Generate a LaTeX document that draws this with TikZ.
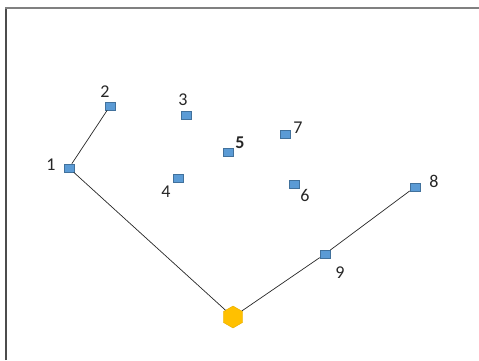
\documentclass[tikz,border=0pt]{standalone}
\usepackage{fontspec}
\setmainfont{Carlito}
\usetikzlibrary{shapes.geometric}
\definecolor{sensorblue}{RGB}{91,155,213}
\definecolor{sensoredge}{RGB}{65,113,156}
\definecolor{sinkorange}{RGB}{255,192,0}
\tikzset{
  sensor/.style={%
    draw=sensoredge,
    fill=sensorblue,
    rectangle,
    inner sep=0,
    minimum width=10pt,
    minimum height=8pt,
    line width=0.6pt,
  },
  sink/.style={%
    draw=sinkorange!90!black,
    fill=sinkorange,
    regular polygon,
    regular polygon sides=6,
    shape border rotate=30,
    inner sep=0,
    minimum size=22pt,
    line width=0.4pt,
  },
  tag/.style={font=\fontsize{18}{18}\selectfont, inner sep=0pt, text=black!85},
  link/.style={draw=black!85, line width=0.7pt},
}
\newcommand\Sensor[4]{% name, position, label position, label text
  \node (#1) [sensor] at (#2) {};
  \node (#1-tag) [tag] at (#3) {#4};
}

\begin{document}
\begin{tikzpicture}[x=1pt,y=-1pt]
    \useasboundingbox (0,0) rectangle (479,360);
    % frame
    \draw [black!70, line width=2pt] (6,360) -- (6,8);
    \draw [black!50, line width=2.4pt] (5,8) -- (479,8);
    % sensors
    \Sensor{s1}{69,168}{51,165}{1}
    \Sensor{s2}{110,106}{105,92}{2}
    \Sensor{s3}{186,115}{183,100}{3}
    \Sensor{s4}{178,178}{166,192}{4}
    \Sensor{s5}{228,152}{240,143}{\textbf{5}}
    \Sensor{s6}{294,184}{305,195}{6}
    \Sensor{s7}{285,134}{298,128}{7}
    \Sensor{s8}{415,187}{434,181}{8}
    \Sensor{s9}{325,254}{340,273}{9}
    \node (base) [sink] at (233,317) {};
    % routes
    \draw [link] (s2) -- (s1) -- (base);
    \draw [link] (s8) -- (s9) -- (base);
\end{tikzpicture}
\end{document}
